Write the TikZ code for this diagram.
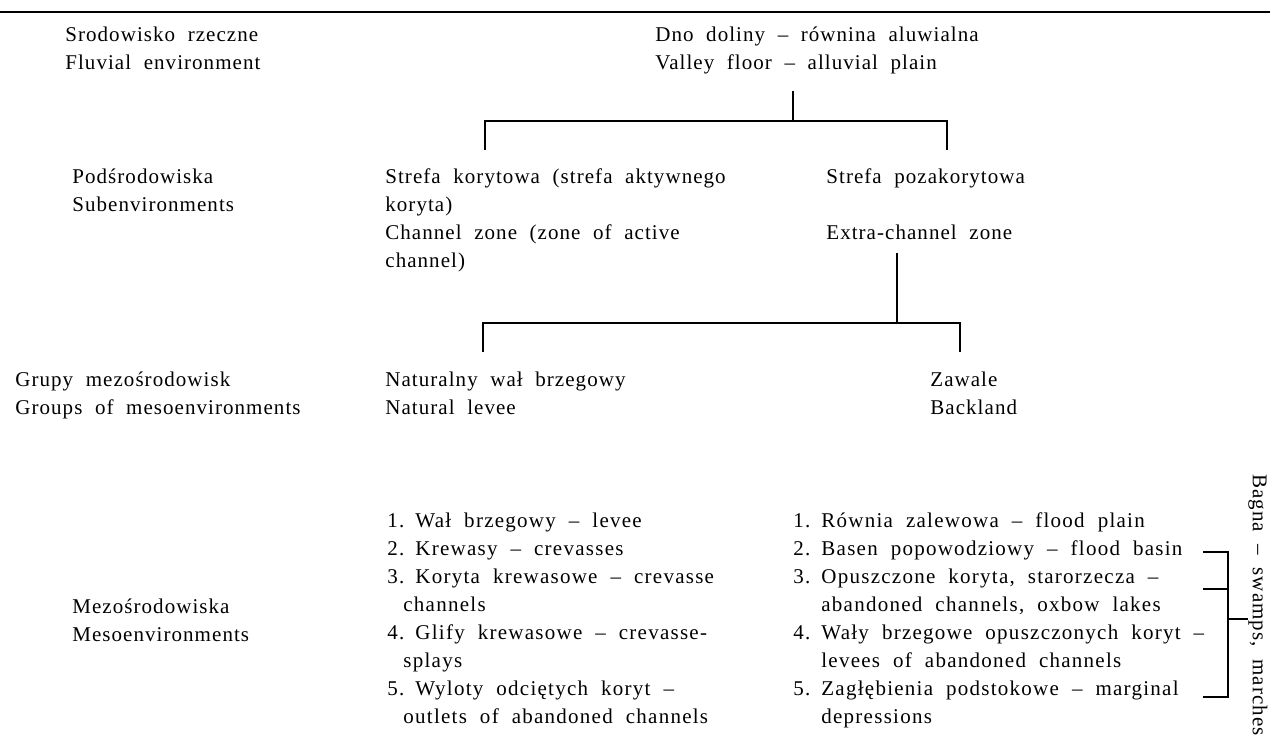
\documentclass[tikz,border=0pt]{standalone}
\usepackage{fontspec}
\setmainfont{Liberation Serif}
\newfontfamily\diagfont[LetterSpace=5,WordSpace=2]{Liberation Serif}
\newfontfamily\listfont[LetterSpace=6,WordSpace=2]{Liberation Serif}
\usetikzlibrary{positioning}
\tikzstyle{txt} = [anchor=base west, inner sep=0pt, align=left, font=\diagfont\fontsize{10.5}{14}\selectfont]
\tikzstyle{lst} = [txt, font=\listfont\fontsize{10.5}{14}\selectfont]
\tikzstyle{line} = [draw, line width=0.6pt]
\newcommand{\itm}[1]{\makebox[14pt][l]{#1.}}
\newcommand{\cnl}{\hspace*{8pt}}
\newcommand{\cnr}{\hspace*{14pt}}

\begin{document}
\begin{tikzpicture}[x=0.5pt, y=-0.5pt]
			\useasboundingbox (0,0) rectangle (1270,742);
			\draw [line width=1pt] (0,12) -- (1270,12);

			% nodes sit on the baseline of their last line
			\node [txt] (env) at (65,70) {Srodowisko rzeczne\\Fluvial environment};
			\node [txt] (valley) at (655,70) {Dno doliny – równina aluwialna\\Valley floor – alluvial plain};

			\node [txt] (subenv) at (72,212) {Podśrodowiska\\Subenvironments};
			\node [txt] (channel) at (385,268) {Strefa korytowa (strefa aktywnego\\koryta)\\Channel zone (zone of active\\channel)};
			\node [txt] (extra) at (826,240) {Strefa pozakorytowa\\[14pt]Extra-channel zone};

			\node [txt] (groups) at (15,415) {Grupy mezośrodowisk\\Groups of mesoenvironments};
			\node [txt] (levee) at (385,415) {Naturalny wał brzegowy\\Natural levee};
			\node [txt] (backland) at (930,415) {Zawale\\Backland};

			\node [txt] (meso) at (72,642) {Mezośrodowiska\\Mesoenvironments};
			\node [lst] (leveelist) at (387,724) {\itm{1}Wał brzegowy – levee\\
				\itm{2}Krewasy – crevasses\\
				\itm{3}Koryta krewasowe – crevasse\\
				\cnl channels\\
				\itm{4}Glify krewasowe – crevasse-\\
				\cnl splays\\
				\itm{5}Wyloty odciętych koryt –\\
				\cnl outlets of abandoned channels};
			\node [lst] (backlist) at (793,724) {\itm{1}Równia zalewowa – flood plain\\
				\itm{2}Basen popowodziowy – flood basin\\
				\itm{3}Opuszczone koryta, starorzecza –\\
				\cnr abandoned channels, oxbow lakes\\
				\itm{4}Wały brzegowe opuszczonych koryt –\\
				\cnr levees of abandoned channels\\
				\itm{5}Zagłębienia podstokowe – marginal\\
				\cnr depressions};
			\node [txt, anchor=center, rotate=-90] (bagna) at (1258,605) {Bagna – swamps, marches};

			% forks of the tree
			\coordinate (fork1) at (793,121);
			\coordinate (drop1l) at (485,150);
			\coordinate (drop1r) at (947,150);
			\coordinate (fork2) at (897,323);
			\coordinate (drop2l) at (483,352);
			\coordinate (drop2r) at (960,352);

			\path [line] ([yshift=-8pt]valley.south -| fork1) -- (fork1);
			\path [line] (drop1l) |- (fork1) -| (drop1r);
			\path [line] ([yshift=-6pt]extra.south -| fork2) -- (fork2);
			\path [line] (drop2l) |- (fork2) -| (drop2r);

			% bracket of the swamps
			\coordinate (b2) at (1203,552);
			\coordinate (b3) at (1203,589);
			\coordinate (b5) at (1203,697);
			\coordinate (bx) at (1228,619);
			\path [line] (b2) -| (bx) |- (b5);
			\path [line] (b3) -- (b3 -| bx);
			\path [line] (bx) -- (bagna.south |- bx);
		\end{tikzpicture}
\end{document}
